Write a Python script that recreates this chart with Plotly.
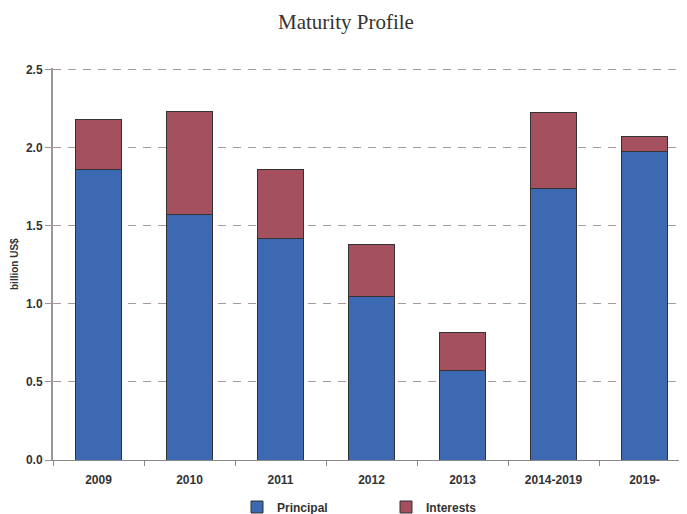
import plotly.graph_objects as go

categories = ["2009", "2010", "2011", "2012", "2013", "2014-2019", "2019-"]
principal = [1.86, 1.57, 1.42, 1.045, 0.57, 1.74, 1.975]
interests = [0.32, 0.66, 0.44, 0.335, 0.245, 0.485, 0.095]

fig = go.Figure()
fig.add_trace(go.Bar(x=categories, y=principal, name="Principal",
                     marker=dict(color="#3d69b3", line=dict(color="#333333", width=1)),
                     width=0.5))
fig.add_trace(go.Bar(x=categories, y=interests, name="Interests",
                     marker=dict(color="#a5505f", line=dict(color="#333333", width=1)),
                     width=0.5))

W, H = 687, 514
L, T, R, B = 45, 60, 5, 62

fig.update_layout(
    barmode="stack",
    width=W, height=H,
    paper_bgcolor="white", plot_bgcolor="white",
    margin=dict(l=L, r=R, t=T, b=B, autoexpand=False),
    title=dict(text="Maturity Profile", x=338 / W, xref="container", xanchor="center",
               y=1 - 14 / H, yanchor="middle", automargin=False,
               font=dict(family="Liberation Serif", size=21, color="#333333")),
    font=dict(family="Liberation Sans", color="#333333"),
    legend=dict(orientation="h", x=378 / W, xref="container", xanchor="center",
                y=(H - 499) / H, yref="container", yanchor="middle",
                font=dict(family="Liberation Sans", size=12, color="#333333", weight="bold"),
                entrywidth=104, itemwidth=30, traceorder="normal"),
    bargap=0.5,
    annotations=[dict(text="billion US$", textangle=-90, xref="paper", yref="paper",
                      x=(6 - L) / (W - L - R), y=0.5, xanchor="center", yanchor="middle",
                      showarrow=False,
                      font=dict(family="Liberation Sans", size=10, color="#333333", weight="bold"))],
)
fig.update_xaxes(range=[-0.5, 6.5], showline=True, linecolor="#888888", linewidth=1,
                 ticks="outside", tickson="boundaries", ticklen=5, tickcolor="#888888",
                 ticklabelstandoff=9,
                 tickfont=dict(family="Liberation Sans", size=12, color="#333333", weight="bold"),
                 showgrid=False, automargin=False)
fig.update_yaxes(range=[0, 2.51], tickvals=[0, 0.5, 1.0, 1.5, 2.0, 2.5], tickformat=".1f",
                 showline=True, linecolor="#999999",
                 linewidth=2, ticks="outside", ticklen=6, tickcolor="#a09090",
                 showgrid=True, gridcolor="#a89a9a", griddash="8px,7px", gridwidth=1,
                 zeroline=False, automargin=False,
                 tickfont=dict(family="Liberation Sans", size=12, color="#333333", weight="bold"))

fig.write_html("out.html")
